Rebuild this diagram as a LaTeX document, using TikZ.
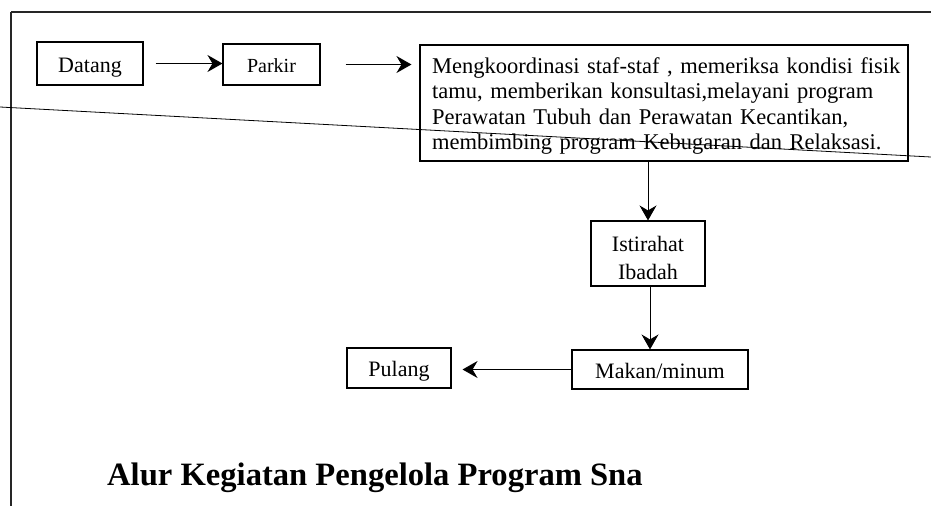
\documentclass[tikz,border=0pt]{standalone}
\usepackage{fontspec}
\setmainfont{Liberation Serif}
\usetikzlibrary{arrows.meta}
\tikzset{
  box/.style={draw=black, line width=1.1pt, inner sep=0pt, align=center,
    font=\fontsize{22}{28}\selectfont},
  onebox/.style={box, text height=19pt, text depth=2pt},
  arr/.style={line width=1pt, -{Stealth[length=15pt,width=17pt,inset=5pt]}},
  frameline/.style={line width=1.1pt, black!85},
}
\begin{document}
\begin{tikzpicture}[x=1pt,y=-1pt]
\useasboundingbox (0,0) rectangle (931,506);
% page frame of the scan
\draw[frameline] (11,12) -- (931,12);
\draw[frameline] (11,12) -- (11,506);
\draw[line width=0.8pt] (0,107) -- (931,157);
% boxes
\node[onebox, minimum width=106pt, minimum height=43pt] (datang) at (90,63.5) {Datang};
\node[onebox, minimum width=97pt, minimum height=41pt, text height=17pt, font=\fontsize{20}{24}\selectfont] (parkir) at (271.5,64.5) {Parkir};
\node[box, minimum width=488pt, minimum height=116pt] (big) at (664,103) {};
\node[anchor=north west, inner sep=0pt, text width=470pt, align=left,
      font=\fontsize{22.5}{25.5}\selectfont] (bigtext) at (432,57)
  {Mengkoordinasi staf-staf , memeriksa kondisi fisik\\
   tamu, memberikan konsultasi,melayani program\\
   Perawatan Tubuh dan Perawatan Kecantikan,\\
   membimbing program Kebugaran dan Relaksasi.};
\node[box, minimum width=114pt, minimum height=65pt] (istirahat) at (648,253.5) {};
\node[inner sep=0pt, align=center, font=\fontsize{22}{28}\selectfont] (istext) at (648,257.5) {Istirahat\\Ibadah};
\node[onebox, minimum width=176pt, minimum height=39pt] (makan) at (660,369.5) {Makan/minum};
\node[onebox, minimum width=104pt, minimum height=40pt] (pulang) at (399,368) {Pulang};
% connectors
\draw[arr] ([xshift=12pt]datang.east) -- (datang.east -| parkir.west);
\draw[arr] ([xshift=25pt]parkir.east) -- ([xshift=-8pt]parkir.east -| big.west);
\draw[arr] (istirahat.north |- big.south) -- (istirahat.north);
\draw[arr] ([xshift=2pt]istirahat.south) -- ([xshift=2pt]istirahat.south |- makan.north);
\draw[arr] (makan.west) -- ([xshift=11pt]pulang.east |- makan.west);
% title
\node[anchor=base west, inner sep=0pt, font=\fontsize{32.6}{38}\selectfont\bfseries] (title) at (107,485)
  {Alur Kegiatan Pengelola Program Sna};
\end{tikzpicture}
\end{document}
